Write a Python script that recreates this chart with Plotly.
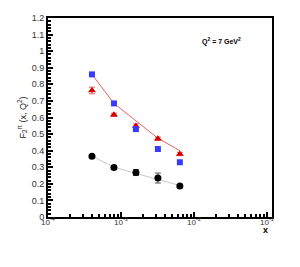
import plotly.graph_objects as go

x_vals = [4.0e-4, 8.0e-4, 1.6e-3, 3.2e-3, 6.4e-3]
blue_sq = [0.86, 0.685, 0.53, 0.41, 0.33]
red_tri = [0.763, 0.616, 0.549, 0.472, 0.38]
red_tri_err = [0.02, 0.01, 0.012, 0.01, 0.01]
red_line = [0.86, 0.685, 0.58, 0.475, 0.40]
black_circ = [0.367, 0.298, 0.268, 0.235, 0.187]
black_err = [0.01, 0.01, 0.018, 0.03, 0.008]
grey_line = [0.367, 0.30, 0.263, 0.225, 0.19]

xtick_vals = [1e-4, 1e-3, 1e-2, 1e-1]
xtick_text = ["10<sup>-4</sup>", "10<sup>-3</sup>", "10<sup>-2</sup>", "10<sup>-1</sup>"]

font = "Liberation Sans, Arial, sans-serif"

fig = go.Figure()
fig.add_trace(go.Scatter(x=x_vals, y=red_line, mode="lines",
                         line=dict(color="#f06060", width=1), showlegend=False))
fig.add_trace(go.Scatter(x=x_vals, y=grey_line, mode="lines",
                         line=dict(color="#c8c8c8", width=1), showlegend=False))
fig.add_trace(go.Scatter(x=x_vals, y=red_tri, mode="markers",
                         marker=dict(symbol="triangle-up", size=7, color="#d40000"),
                         error_y=dict(type="data", array=red_tri_err, color="#e06060",
                                      thickness=1, width=3),
                         showlegend=False))
fig.add_trace(go.Scatter(x=x_vals, y=blue_sq, mode="markers",
                         marker=dict(symbol="square", size=6, color="#3a3aff"),
                         showlegend=False))
fig.add_trace(go.Scatter(x=x_vals, y=black_circ, mode="markers",
                         marker=dict(symbol="circle", size=7, color="black"),
                         error_y=dict(type="data", array=black_err, color="#555555",
                                      thickness=1, width=3),
                         showlegend=False))

fig.update_layout(
    width=300, height=267,
    margin=dict(l=40, r=36, t=5, b=58),
    paper_bgcolor="white", plot_bgcolor="white",
    font=dict(family=font, size=9, color="#222222"),
    xaxis=dict(type="log", range=[-4, -0.932],
               tickvals=xtick_vals, ticktext=xtick_text,
               ticks="inside", ticklen=5, tickwidth=1.5, tickcolor="black",
               minor=dict(ticks="inside", ticklen=3, tickcolor="black", dtick="D1"),
               showgrid=False, zeroline=False,
               showline=True, linewidth=2, linecolor="black", mirror=True,
               ticklabelstandoff=-4,
               tickfont=dict(size=8, color="#333333")),
    yaxis=dict(range=[0, 1.2], dtick=0.1,
               ticks="inside", ticklen=5, tickwidth=1.5, tickcolor="black",
               minor=dict(ticks="inside", ticklen=3, tickcolor="black", dtick=0.02),
               showgrid=False, zeroline=False,
               showline=True, linewidth=2, linecolor="black", mirror=True,
               title=dict(text="F<sub>2</sub><sup>π</sup> (x, Q<sup>2</sup>)",
                          font=dict(size=9), standoff=4),
               tickfont=dict(size=9, color="#333333")),
    annotations=[
        dict(text="<b>x</b>", xref="paper", yref="paper", x=0.99, y=-0.1,
             showarrow=False, font=dict(size=9, color="black")),
        dict(text="<b>Q<sup>2</sup> = 7 GeV<sup>2</sup></b>", xref="paper", yref="paper",
             x=0.87, y=0.915, showarrow=False, font=dict(size=7, color="black")),
    ],
)

fig.write_html("out.html")
